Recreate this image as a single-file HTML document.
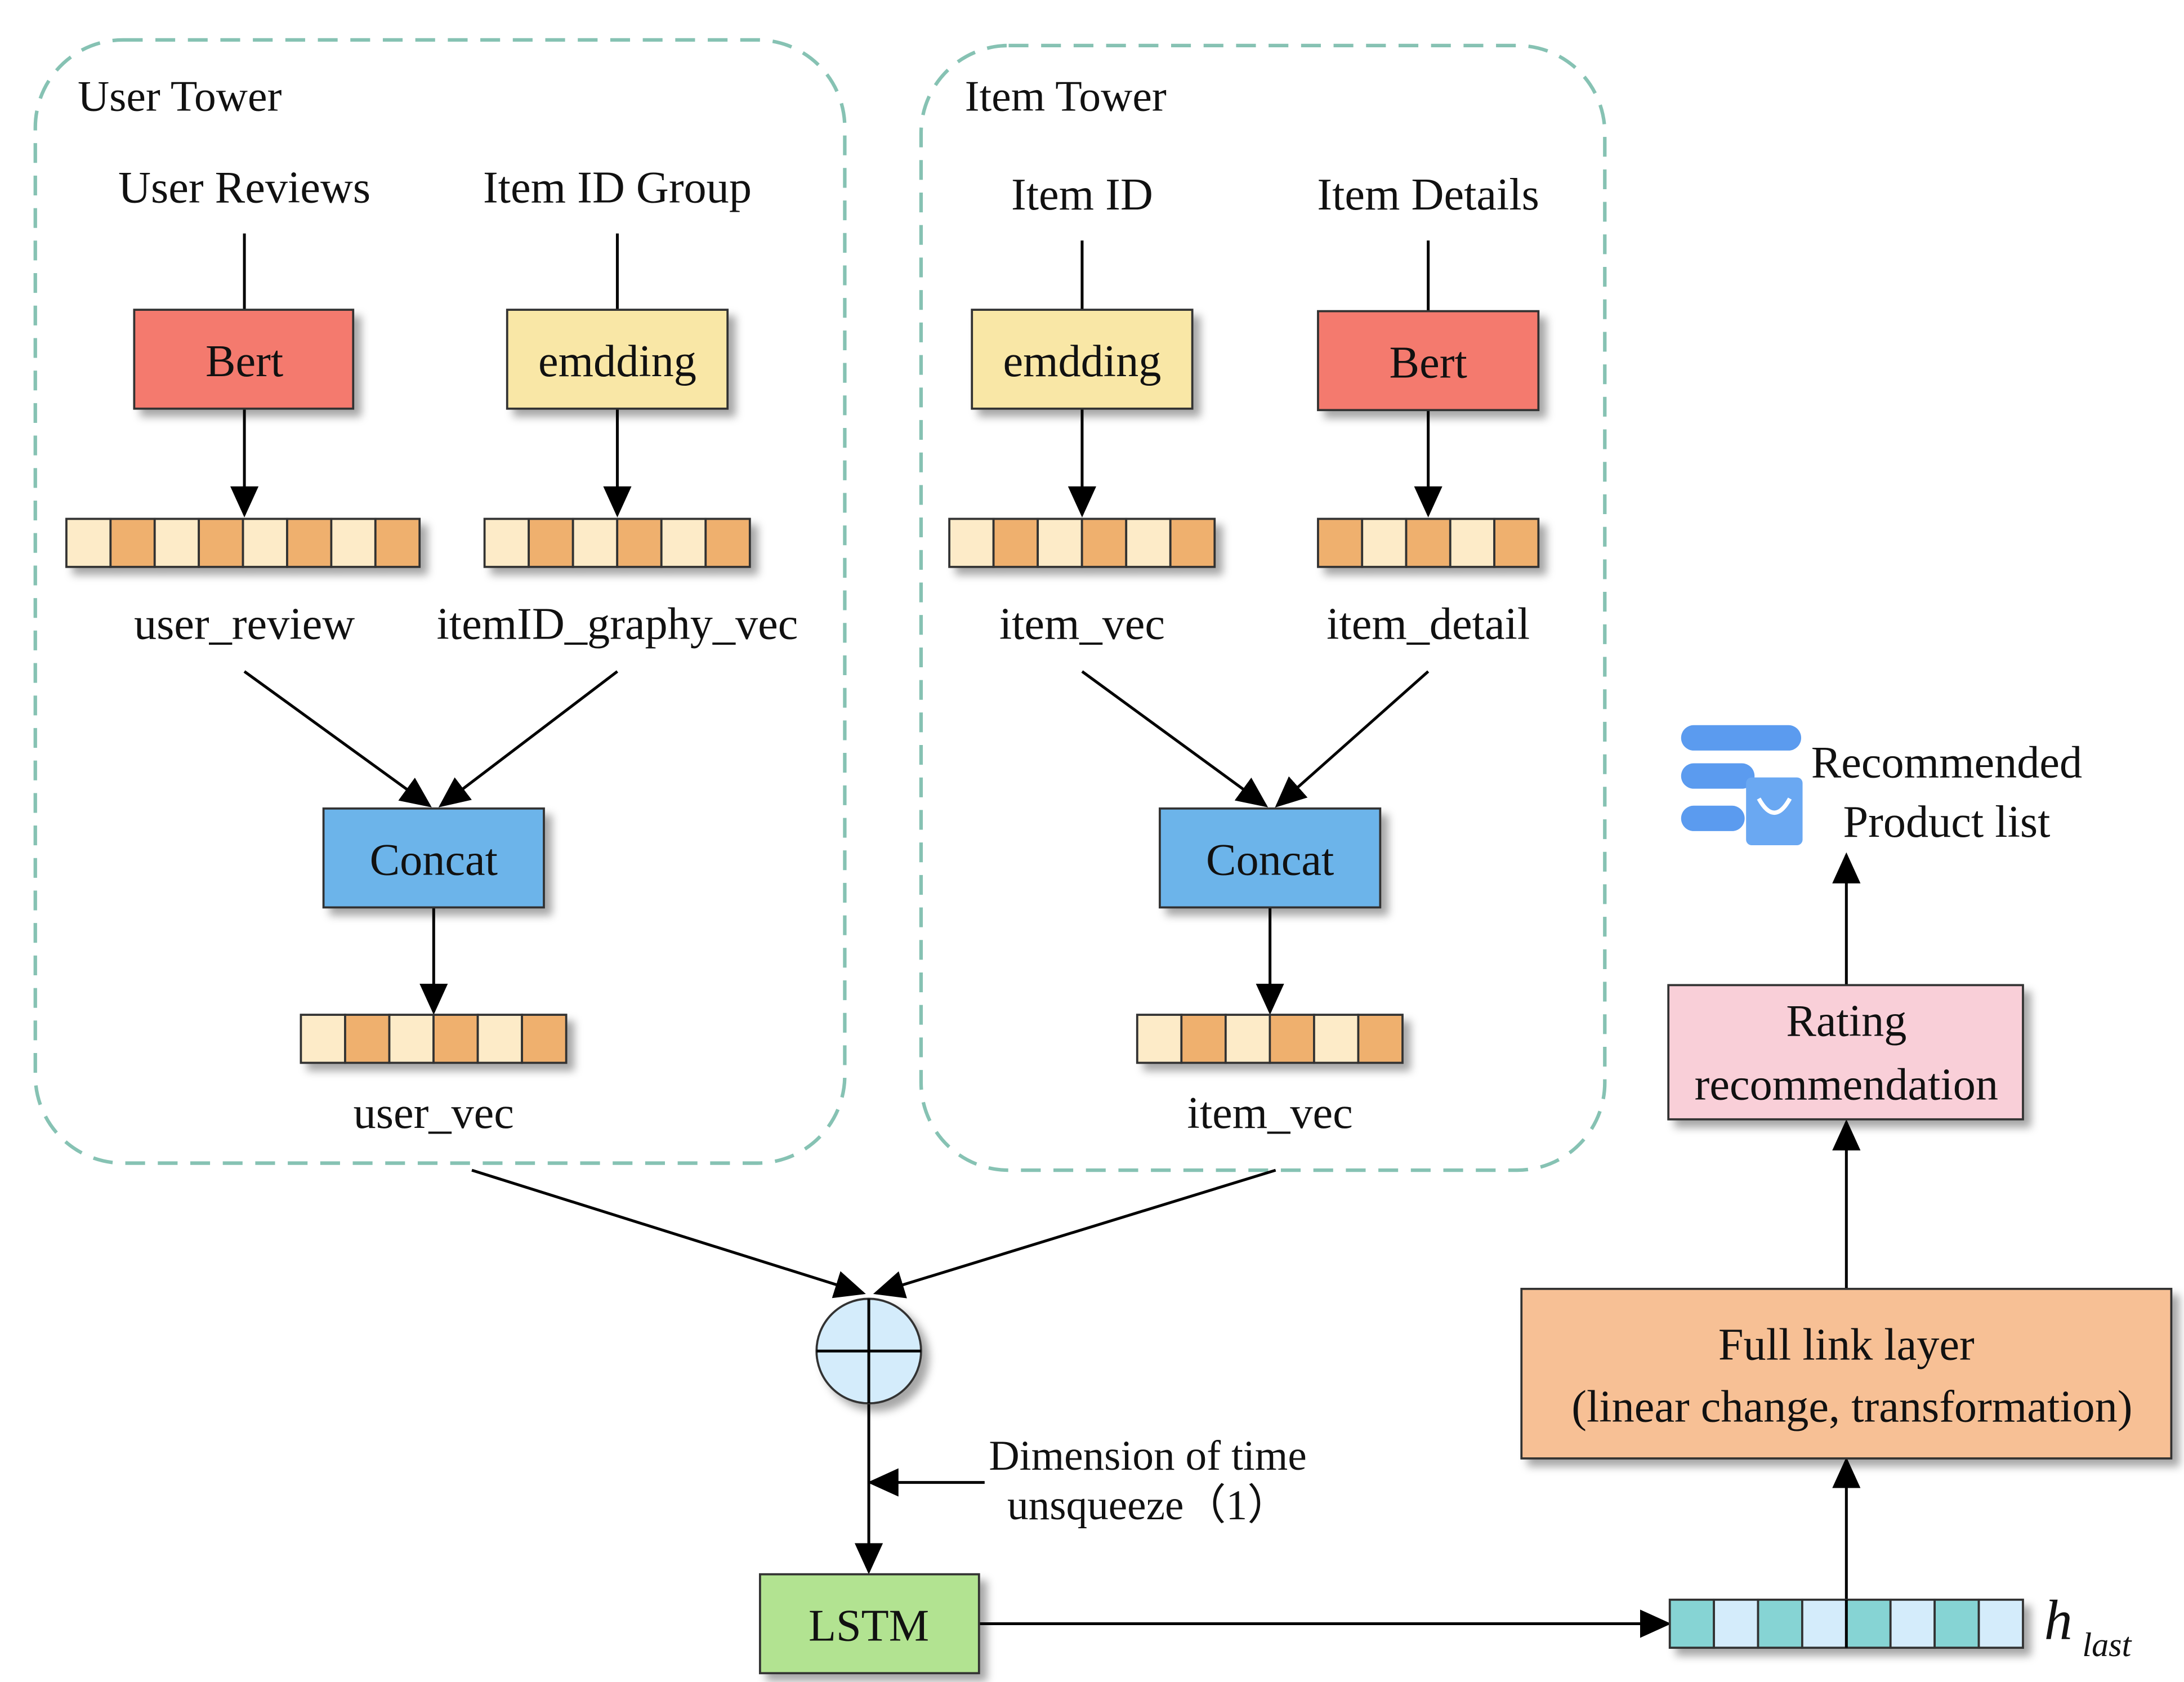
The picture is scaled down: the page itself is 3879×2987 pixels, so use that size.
<!DOCTYPE html>
<html><head><meta charset="utf-8"><style>
html,body{margin:0;padding:0;background:#fff;}
svg{display:block;}
text{font-family:"Liberation Serif",serif;fill:#111;}
</style></head><body>
<svg width="3879" height="2987" viewBox="0 0 1546 1190" xmlns="http://www.w3.org/2000/svg">
<defs>
<filter id="sh" x="-20%" y="-20%" width="150%" height="160%">
<feDropShadow dx="5" dy="5" stdDeviation="3" flood-color="#000" flood-opacity="0.35"/>
</filter>
<marker id="ar" markerWidth="10" markerHeight="10" refX="9" refY="5" orient="auto" markerUnits="userSpaceOnUse" viewBox="0 0 10 10">
<path d="M0,0 L10,5 L0,10 z" fill="#000"/>
</marker>
<marker id="arb" markerWidth="22" markerHeight="20" refX="20" refY="10" orient="auto" markerUnits="userSpaceOnUse" viewBox="0 0 22 20">
<path d="M0,0 L22,10 L0,20 z" fill="#000"/>
</marker>
</defs>
<rect width="1546" height="1190" fill="#fff"/>
<!-- towers -->
<rect x="25" y="28" width="573" height="795" rx="62" fill="none" stroke="#86c2b3" stroke-width="2.5" stroke-dasharray="14,9"/>
<rect x="652" y="32" width="484" height="796" rx="62" fill="none" stroke="#86c2b3" stroke-width="2.5" stroke-dasharray="14,9"/>
<g font-size="31">
<text x="55" y="78">User Tower</text>
<text x="683" y="78">Item Tower</text>
</g>
<g font-size="32" text-anchor="middle">
<text x="173" y="143">User Reviews</text>
<text x="437" y="143">Item ID Group</text>
<text x="766" y="148">Item ID</text>
<text x="1011" y="148">Item Details</text>
</g>
<g stroke="#000" stroke-width="2" fill="none">
<line x1="173" y1="165" x2="173" y2="219"/>
<line x1="437" y1="165" x2="437" y2="219"/>
<line x1="766" y1="170" x2="766" y2="219"/>
<line x1="1011" y1="170" x2="1011" y2="220"/>
<line x1="173" y1="289" x2="173" y2="364" marker-end="url(#arb)"/>
<line x1="437" y1="289" x2="437" y2="364" marker-end="url(#arb)"/>
<line x1="766" y1="289" x2="766" y2="364" marker-end="url(#arb)"/>
<line x1="1011" y1="290" x2="1011" y2="364" marker-end="url(#arb)"/>
<line x1="173" y1="475" x2="304" y2="570" marker-end="url(#arb)"/>
<line x1="437" y1="475" x2="312" y2="570" marker-end="url(#arb)"/>
<line x1="766" y1="475" x2="896" y2="570" marker-end="url(#arb)"/>
<line x1="1011" y1="475" x2="904" y2="570" marker-end="url(#arb)"/>
<line x1="307" y1="642" x2="307" y2="716" marker-end="url(#arb)"/>
<line x1="899" y1="642" x2="899" y2="716" marker-end="url(#arb)"/>
<line x1="334" y1="828" x2="611" y2="915" marker-end="url(#arb)"/>
<line x1="903" y1="828" x2="620" y2="915" marker-end="url(#arb)"/>
<line x1="615" y1="993" x2="615" y2="1112" marker-end="url(#arb)"/>
<line x1="697" y1="1049" x2="616" y2="1049" marker-end="url(#arb)"/>
<line x1="693" y1="1149" x2="1181" y2="1149" marker-end="url(#arb)"/>
<line x1="1307" y1="1132" x2="1307" y2="1033" marker-end="url(#arb)"/>
<line x1="1307" y1="912" x2="1307" y2="794" marker-end="url(#arb)"/>
<line x1="1307" y1="697" x2="1307" y2="605" marker-end="url(#arb)"/>
</g>
<!-- boxes -->
<g filter="url(#sh)" stroke="#333" stroke-width="1.5">
<rect x="95" y="219" width="155" height="70" fill="#f47a6e"/>
<rect x="359" y="219" width="156" height="70" fill="#f9e7a6"/>
<rect x="688" y="219" width="156" height="70" fill="#f9e7a6"/>
<rect x="933" y="220" width="156" height="70" fill="#f47a6e"/>
<rect x="229" y="572" width="156" height="70" fill="#6cb4ea"/>
<rect x="821" y="572" width="156" height="70" fill="#6cb4ea"/>
<rect x="538" y="1114" width="155" height="70" fill="#b2e391"/>
<rect x="1077" y="912" width="460" height="120" fill="#f7c095"/>
<rect x="1181" y="697" width="251" height="95" fill="#f9cfd8"/>
<circle cx="615" cy="956" r="37" fill="#d4ecfb"/>
</g>
<g stroke="#000" stroke-width="2">
<line x1="578" y1="956" x2="652" y2="956"/><line x1="615" y1="919" x2="615" y2="993"/>
</g>
<g font-size="32" text-anchor="middle">
<text x="173" y="266">Bert</text>
<text x="437" y="266">emdding</text>
<text x="766" y="266">emdding</text>
<text x="1011" y="267">Bert</text>
<text x="307" y="619">Concat</text>
<text x="899" y="619">Concat</text>
<text x="615" y="1161">LSTM</text>
<text x="1307" y="962">Full link layer</text>
<text x="1311" y="1006">(linear change, transformation)</text>
<text x="1307" y="733">Rating</text>
<text x="1307" y="778">recommendation</text>
<text x="173" y="452">user_review</text>
<text x="437" y="452">itemID_graphy_vec</text>
<text x="766" y="452">item_vec</text>
<text x="1011" y="452">item_detail</text>
<text x="307" y="798">user_vec</text>
<text x="899" y="798">item_vec</text>
<text x="1378" y="550">Recommended</text>
<text x="1378" y="592">Product list</text>
</g>
<g font-size="30">
<text x="700" y="1040">Dimension of time</text>
<text x="713" y="1075">unsqueeze（1）</text>
</g>
<text x="1447" y="1160" font-size="40" font-style="italic">h</text>
<text x="1474" y="1172" font-size="24" font-style="italic">last</text>
<!-- vectors -->
<g filter="url(#sh)" stroke="#333" stroke-width="1.5">
<g id="v1"><rect x="47" y="367" width="31.25" height="34" fill="#fdebc8"/><rect x="78.25" y="367" width="31.25" height="34" fill="#efb06e"/><rect x="109.5" y="367" width="31.25" height="34" fill="#fdebc8"/><rect x="140.75" y="367" width="31.25" height="34" fill="#efb06e"/><rect x="172" y="367" width="31.25" height="34" fill="#fdebc8"/><rect x="203.25" y="367" width="31.25" height="34" fill="#efb06e"/><rect x="234.5" y="367" width="31.25" height="34" fill="#fdebc8"/><rect x="265.75" y="367" width="31.25" height="34" fill="#efb06e"/></g>
</g>
<g filter="url(#sh)" stroke="#333" stroke-width="1.5">
<rect x="343" y="367" width="31.3" height="34" fill="#fdebc8"/><rect x="374.3" y="367" width="31.3" height="34" fill="#efb06e"/><rect x="405.6" y="367" width="31.3" height="34" fill="#fdebc8"/><rect x="436.9" y="367" width="31.3" height="34" fill="#efb06e"/><rect x="468.2" y="367" width="31.3" height="34" fill="#fdebc8"/><rect x="499.5" y="367" width="31.3" height="34" fill="#efb06e"/>
</g>
<g filter="url(#sh)" stroke="#333" stroke-width="1.5">
<rect x="672" y="367" width="31.3" height="34" fill="#fdebc8"/><rect x="703.3" y="367" width="31.3" height="34" fill="#efb06e"/><rect x="734.6" y="367" width="31.3" height="34" fill="#fdebc8"/><rect x="765.9" y="367" width="31.3" height="34" fill="#efb06e"/><rect x="797.2" y="367" width="31.3" height="34" fill="#fdebc8"/><rect x="828.5" y="367" width="31.3" height="34" fill="#efb06e"/>
</g>
<g filter="url(#sh)" stroke="#333" stroke-width="1.5">
<rect x="933" y="367" width="31.2" height="34" fill="#efb06e"/><rect x="964.2" y="367" width="31.2" height="34" fill="#fdebc8"/><rect x="995.4" y="367" width="31.2" height="34" fill="#efb06e"/><rect x="1026.6" y="367" width="31.2" height="34" fill="#fdebc8"/><rect x="1057.8" y="367" width="31.2" height="34" fill="#efb06e"/>
</g>
<g filter="url(#sh)" stroke="#333" stroke-width="1.5">
<rect x="213" y="718" width="31.3" height="34" fill="#fdebc8"/><rect x="244.3" y="718" width="31.3" height="34" fill="#efb06e"/><rect x="275.6" y="718" width="31.3" height="34" fill="#fdebc8"/><rect x="306.9" y="718" width="31.3" height="34" fill="#efb06e"/><rect x="338.2" y="718" width="31.3" height="34" fill="#fdebc8"/><rect x="369.5" y="718" width="31.3" height="34" fill="#efb06e"/>
</g>
<g filter="url(#sh)" stroke="#333" stroke-width="1.5">
<rect x="805" y="718" width="31.3" height="34" fill="#fdebc8"/><rect x="836.3" y="718" width="31.3" height="34" fill="#efb06e"/><rect x="867.6" y="718" width="31.3" height="34" fill="#fdebc8"/><rect x="898.9" y="718" width="31.3" height="34" fill="#efb06e"/><rect x="930.2" y="718" width="31.3" height="34" fill="#fdebc8"/><rect x="961.5" y="718" width="31.3" height="34" fill="#efb06e"/>
</g>
<g filter="url(#sh)" stroke="#333" stroke-width="1.5">
<rect x="1182" y="1132" width="31.25" height="34" fill="#86d4d4"/><rect x="1213.25" y="1132" width="31.25" height="34" fill="#d4ecfb"/><rect x="1244.5" y="1132" width="31.25" height="34" fill="#86d4d4"/><rect x="1275.75" y="1132" width="31.25" height="34" fill="#d4ecfb"/><rect x="1307" y="1132" width="31.25" height="34" fill="#86d4d4"/><rect x="1338.25" y="1132" width="31.25" height="34" fill="#d4ecfb"/><rect x="1369.5" y="1132" width="31.25" height="34" fill="#86d4d4"/><rect x="1400.75" y="1132" width="31.25" height="34" fill="#d4ecfb"/>
</g>
<line x1="1307" y1="1132" x2="1307" y2="1166" stroke="#000" stroke-width="2"/>
<!-- icon -->
<g fill="#5b9bef">
<rect x="1190" y="513" width="85" height="18" rx="9"/>
<rect x="1190" y="540" width="52" height="18" rx="9"/>
<rect x="1190" y="570" width="45" height="18" rx="9"/>
<rect x="1236" y="550" width="40" height="48" rx="4" fill="#6aa8f2"/>
</g>
<path d="M1245,565 Q1256,585 1267,565" stroke="#fff" stroke-width="3" fill="none"/>
</svg>
</body></html>
